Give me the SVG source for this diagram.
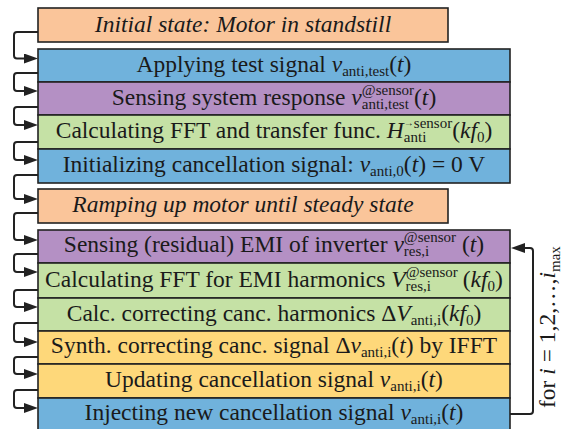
<svg xmlns="http://www.w3.org/2000/svg" width="574" height="429" viewBox="0 0 574 429">
<style>
.box{stroke:#222;stroke-width:1.6}
.or{fill:#FAC59A}.bl{fill:#70B2DC}.pu{fill:#B490C4}.gr{fill:#C5E1A5}.ye{fill:#FED87A}
.t{font-family:"Liberation Serif","Times New Roman",serif;font-size:23.5px;fill:#1a1a1a;text-anchor:middle}
.i{font-style:italic}
.s{font-size:15px}
.c{fill:none;stroke:#222;stroke-width:2}
</style>
<defs>
<marker id="ah" markerUnits="userSpaceOnUse" markerWidth="14" markerHeight="10" viewBox="0 0 14 10" refX="0" refY="5" orient="auto">
<path d="M0,0 L14,5 L0,10 z" fill="#222"/>
</marker>
</defs>
<g id="connectors">
<path class="c" marker-end="url(#ah)" d="M38,32 H17 Q14,32 14,35 V55.5 Q14,58.5 17,58.5 H24"/>
<path class="c" marker-end="url(#ah)" d="M38,73 H17 Q14,73 14,76 V88 Q14,91 17,91 H24"/>
<path class="c" marker-end="url(#ah)" d="M38,107 H17 Q14,107 14,110 V122 Q14,125 17,125 H24"/>
<path class="c" marker-end="url(#ah)" d="M38,142 H17 Q14,142 14,145 V157 Q14,160 17,160 H24"/>
<path class="c" marker-end="url(#ah)" d="M38,175 H17 Q14,175 14,178 V196 Q14,199 17,199 H24"/>
<path class="c" marker-end="url(#ah)" d="M38,213 H17 Q14,213 14,216 V237 Q14,240 17,240 H24"/>
<path class="c" marker-end="url(#ah)" d="M38,254 H17 Q14,254 14,257 V269 Q14,272 17,272 H24"/>
<path class="c" marker-end="url(#ah)" d="M38,290 H17 Q14,290 14,293 V304 Q14,307 17,307 H24"/>
<path class="c" marker-end="url(#ah)" d="M38,323 H17 Q14,323 14,326 V339 Q14,342 17,342 H24"/>
<path class="c" marker-end="url(#ah)" d="M38,357 H17 Q14,357 14,360 V371 Q14,374 17,374 H24"/>
<path class="c" marker-end="url(#ah)" d="M38,390 H17 Q14,390 14,393 V405 Q14,408 17,408 H24"/>
<path class="c" marker-end="url(#ah)" d="M510,414 H530 Q533,414 533,411 V251 Q533,248 530,248 H525"/>
</g>
<g id="n1"><rect class="box or" x="38" y="8" width="410" height="34"/>
<text class="t i" x="243" y="32">Initial state: Motor in standstill</text></g>
<g id="n2"><rect class="box bl" x="38" y="49" width="472" height="33"/>
<text class="t" x="274" y="72">Applying test signal <tspan class="i">v</tspan><tspan class="s" dy="4">anti,test</tspan><tspan dy="-4">(</tspan><tspan class="i">t</tspan>)</text></g>
<g id="n3"><rect class="box pu" x="38" y="82" width="472" height="33"/>
<text class="t" x="274" y="105">Sensing system response <tspan class="i">v</tspan><tspan class="s" dy="4">anti,test</tspan><tspan class="s" dx="-47" dy="-14.5">@sensor</tspan><tspan dy="10.5">(</tspan><tspan class="i">t</tspan>)</text></g>
<g id="n4"><rect class="box gr" x="38" y="115" width="472" height="34"/>
<text class="t" x="274" y="138">Calculating FFT and transfer func. <tspan class="i">H</tspan><tspan class="s" dy="4">anti</tspan><tspan style="font-size:10px" dx="-22.5" dy="-16">→</tspan><tspan class="s" dy="1.5">sensor</tspan><tspan dy="10.5">(</tspan><tspan class="i">kf</tspan><tspan class="s" dy="4">0</tspan><tspan dy="-4">)</tspan></text></g>
<g id="n5"><rect class="box bl" x="38" y="149" width="472" height="34"/>
<text class="t" x="274" y="172">Initializing cancellation signal: <tspan class="i">v</tspan><tspan class="s" dy="4">anti,0</tspan><tspan dy="-4">(</tspan><tspan class="i">t</tspan>) = 0 V</text></g>
<g id="n6"><rect class="box or" x="38" y="189" width="410" height="34"/>
<text class="t i" x="243" y="212">Ramping up motor until steady state</text></g>
<g id="n7"><rect class="box pu" x="38" y="230" width="472" height="33"/>
<text class="t" x="274" y="252">Sensing (residual) EMI of inverter <tspan class="i">v</tspan><tspan class="s" dy="4">res,i</tspan><tspan class="s" dx="-25.4" dy="-14.5">@sensor</tspan><tspan dx="6" dy="10.5">(</tspan><tspan class="i">t</tspan>)</text></g>
<g id="n8"><rect class="box gr" x="38" y="263" width="472" height="35"/>
<text class="t" x="274" y="287">Calculating FFT for EMI harmonics <tspan class="i">V</tspan><tspan class="s" dy="4">res,i</tspan><tspan class="s" dx="-25.4" dy="-14.5">@sensor</tspan><tspan dx="5" dy="10.5">(</tspan><tspan class="i">kf</tspan><tspan class="s" dy="4">0</tspan><tspan dy="-4">)</tspan></text></g>
<g id="n9"><rect class="box gr" x="38" y="298" width="472" height="33"/>
<text class="t" x="274" y="320.5">Calc. correcting canc. harmonics Δ<tspan class="i">V</tspan><tspan class="s" dy="4">anti,i</tspan><tspan dy="-4">(</tspan><tspan class="i">kf</tspan><tspan class="s" dy="4">0</tspan><tspan dy="-4">)</tspan></text></g>
<g id="n10"><rect class="box ye" x="38" y="331" width="472" height="33"/>
<text class="t" x="274" y="353">Synth. correcting canc. signal Δ<tspan class="i">v</tspan><tspan class="s" dy="4">anti,i</tspan><tspan dy="-4">(</tspan><tspan class="i">t</tspan>) by IFFT</text></g>
<g id="n11"><rect class="box ye" x="38" y="364" width="472" height="34"/>
<text class="t" x="274" y="387">Updating cancellation signal <tspan class="i">v</tspan><tspan class="s" dy="4">anti,i</tspan><tspan dy="-4">(</tspan><tspan class="i">t</tspan>)</text></g>
<g id="n12"><rect class="box bl" x="38" y="398" width="472" height="33"/>
<text class="t" x="274" y="420">Injecting new cancellation signal <tspan class="i">v</tspan><tspan class="s" dy="4">anti,i</tspan><tspan dy="-4">(</tspan><tspan class="i">t</tspan>)</text></g>
<g id="loop-label">
<text class="t" style="text-anchor:start" transform="translate(555,408) rotate(-90)">for <tspan class="i">i</tspan> = 1,2,…,<tspan class="i">i</tspan><tspan class="s" dy="4.5">max</tspan></text>
</g>
</svg>
